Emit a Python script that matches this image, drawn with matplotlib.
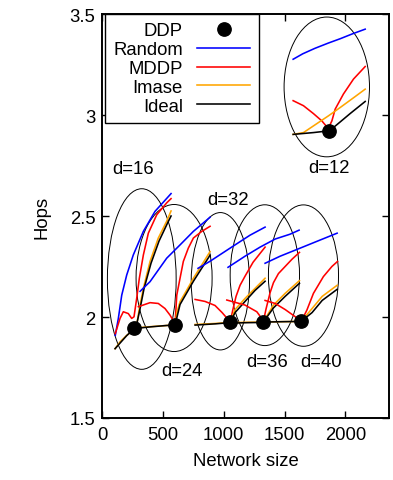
import matplotlib
matplotlib.use("Agg")
import matplotlib.pyplot as plt
from matplotlib.patches import Ellipse
from matplotlib.lines import Line2D

plt.rcParams['font.family'] = ['Liberation Sans', 'DejaVu Sans']
plt.rcParams['font.size'] = 13.3

# degree of each group
degrees = [12, 16, 24, 32, 36, 40]

# DDP points (network size, hops)
ddp_x = [1866, 261, 599, 1052, 1324, 1637]
ddp_y = [2.923, 1.945, 1.960, 1.973, 1.973, 1.978]

random_x = {
    12: [1571, 1650, 1750, 1860, 1960, 2060, 2164],
    16: [107, 132, 160, 201, 255, 338, 434, 566],
    24: [311, 393, 530, 640, 750, 887],
    32: [788, 887, 1052, 1216, 1340],
    36: [1035, 1175, 1299, 1423, 1546, 1620],
    40: [1340, 1464, 1629, 1793, 1933],
}
random_y = {
    12: [3.276, 3.303, 3.330, 3.356, 3.378, 3.402, 3.425],
    16: [1.909, 1.993, 2.108, 2.208, 2.307, 2.424, 2.523, 2.611],
    24: [2.127, 2.175, 2.291, 2.357, 2.424, 2.494],
    32: [2.241, 2.276, 2.341, 2.405, 2.445],
    36: [2.246, 2.301, 2.346, 2.386, 2.410, 2.430],
    40: [2.266, 2.301, 2.341, 2.381, 2.415],
}

mddp_x = {
    12: [1571, 1656, 1738, 1807, 1849, 1870, 1890, 1917, 1985, 2068, 2164],
    16: [107, 146, 173, 214, 242, 261, 283, 305, 338, 379, 448, 530, 566],
    24: [297, 393, 461, 516, 558, 590, 599, 613, 640, 667, 708, 750, 819, 887],
    32: [764, 846, 928, 986, 1035, 1052, 1077, 1101, 1134, 1175, 1241, 1340],
    36: [1025, 1175, 1272, 1310, 1324, 1348, 1381, 1409, 1450, 1505, 1560, 1623],
    40: [1340, 1423, 1505, 1587, 1629, 1637, 1684, 1738, 1820, 1890, 1936],
}
mddp_y = {
    12: [3.071, 3.046, 3.007, 2.971, 2.941, 2.946, 2.971, 3.029, 3.104, 3.178, 3.240],
    16: [1.918, 1.993, 2.026, 2.017, 1.993, 2.001, 2.092, 2.192, 2.307, 2.415, 2.506, 2.565, 2.586],
    24: [2.051, 2.071, 2.067, 2.042, 2.009, 1.976, 1.965, 2.108, 2.192, 2.275, 2.341, 2.391, 2.424, 2.449],
    32: [2.087, 2.077, 2.057, 2.022, 1.988, 1.973, 2.042, 2.102, 2.157, 2.202, 2.271, 2.346],
    36: [2.084, 2.059, 2.026, 1.995, 1.973, 2.040, 2.120, 2.170, 2.215, 2.250, 2.285, 2.320],
    40: [2.082, 2.067, 2.037, 2.002, 1.982, 1.978, 2.034, 2.117, 2.200, 2.250, 2.275],
}

imase_x = {
    12: [1571, 1656, 1738, 1862, 1958, 2081, 2164],
    16: [105, 146, 201, 255, 283, 305, 338, 393, 461, 530, 566],
    24: [280, 393, 530, 599, 613, 640, 695, 750, 819, 887],
    32: [764, 928, 1052, 1093, 1175, 1258, 1340],
    36: [1070, 1200, 1324, 1409, 1505, 1623],
    40: [1340, 1500, 1637, 1727, 1810, 1933],
}
imase_y = {
    12: [2.904, 2.913, 2.946, 2.996, 3.037, 3.091, 3.128],
    16: [1.843, 1.877, 1.909, 1.934, 1.959, 2.042, 2.142, 2.275, 2.391, 2.474, 2.525],
    24: [1.946, 1.952, 1.958, 1.960, 2.020, 2.076, 2.133, 2.192, 2.258, 2.324],
    32: [1.963, 1.968, 1.973, 2.037, 2.092, 2.142, 2.192],
    36: [1.972, 1.974, 1.975, 2.059, 2.117, 2.180],
    40: [1.976, 1.977, 1.978, 2.042, 2.102, 2.157],
}

ideal_x = {
    12: [1571, 1738, 1870, 1931, 2040, 2164],
    16: [105, 201, 255, 283, 311, 344, 401, 467, 533, 566],
    24: [280, 393, 530, 599, 640, 750, 887],
    32: [764, 928, 1052, 1093, 1175, 1258, 1340],
    36: [1070, 1200, 1324, 1409, 1505, 1623],
    40: [1340, 1500, 1637, 1727, 1810, 1933],
}
ideal_y = {
    12: [2.904, 2.913, 2.922, 2.952, 3.007, 3.067],
    16: [1.843, 1.908, 1.938, 1.963, 2.042, 2.142, 2.266, 2.376, 2.460, 2.500],
    24: [1.944, 1.951, 1.958, 1.960, 2.062, 2.177, 2.306],
    32: [1.960, 1.966, 1.972, 2.022, 2.077, 2.132, 2.177],
    36: [1.970, 1.972, 1.973, 2.045, 2.102, 2.167],
    40: [1.975, 1.977, 1.978, 2.022, 2.082, 2.137],
}

# ellipses around each group: centre, width, height (data units)
ell_cx = [1848, 325, 591, 972, 1338, 1656]
ell_cy = [3.139, 2.188, 2.193, 2.177, 2.207, 2.205]
ell_w = [703, 566, 626, 480, 571, 577]
ell_h = [0.692, 0.894, 0.728, 0.680, 0.697, 0.700]

# group label positions
lab_x = [1864, 253, 652, 1038, 1356, 1797]
lab_y = [2.739, 2.734, 1.735, 2.581, 1.779, 1.779]

fig = plt.figure(figsize=(3.93, 4.81), dpi=100)
ax = fig.add_axes([0.2603, 0.1289, 0.7295, 0.8399])

lw = 1.15
for d in degrees:
    ax.plot(random_x[d], random_y[d], color='#0000ff', lw=lw)
    ax.plot(mddp_x[d], mddp_y[d], color='#ff0000', lw=lw)
    ax.plot(imase_x[d], imase_y[d], color='#ffa500', lw=lw)
    ax.plot(ideal_x[d], ideal_y[d], color='black', lw=lw)

ax.plot(ddp_x, ddp_y, 'o', color='black', ms=9.6, ls='none')

for i, d in enumerate(degrees):
    ax.add_patch(Ellipse((ell_cx[i], ell_cy[i]), ell_w[i], ell_h[i],
                         fill=False, ec='black', lw=0.7))
    ax.text(lab_x[i], lab_y[i], f"d={d}", ha='center', va='center')

ax.set_xlim(0, 2360)
ax.set_ylim(1.5, 3.5)
ax.set_xticks([0, 500, 1000, 1500, 2000])
ax.set_yticks([1.5, 2, 2.5, 3, 3.5])
ax.set_yticklabels(["1.5", "2", "2.5", "3", "3.5"])
ax.tick_params(direction='in', length=5, width=1, top=True, right=True,
               pad=6)
ax.tick_params(axis='y', pad=5)
for s in ax.spines.values():
    s.set_linewidth(1.4)

ax.set_xlabel("Network size", labelpad=6)
ax.set_ylabel("Hops", labelpad=14)

handles = [
    Line2D([], [], marker='o', color='black', ms=9.6, ls='none'),
    Line2D([], [], color='#0000ff', lw=lw),
    Line2D([], [], color='#ff0000', lw=lw),
    Line2D([], [], color='#ffa500', lw=lw),
    Line2D([], [], color='black', lw=lw),
]
leg = ax.legend(handles, ["DDP", "Random", "MDDP", "Imase", "Ideal"],
                loc='upper left', bbox_to_anchor=(0.009, 1.0),
                markerfirst=False, fancybox=False, framealpha=1,
                edgecolor='black', borderaxespad=0, borderpad=0.45,
                handlelength=2.9, handletextpad=0.75, labelspacing=0.1)
leg.get_frame().set_linewidth(1.0)

fig.savefig("out.png", dpi=100)
